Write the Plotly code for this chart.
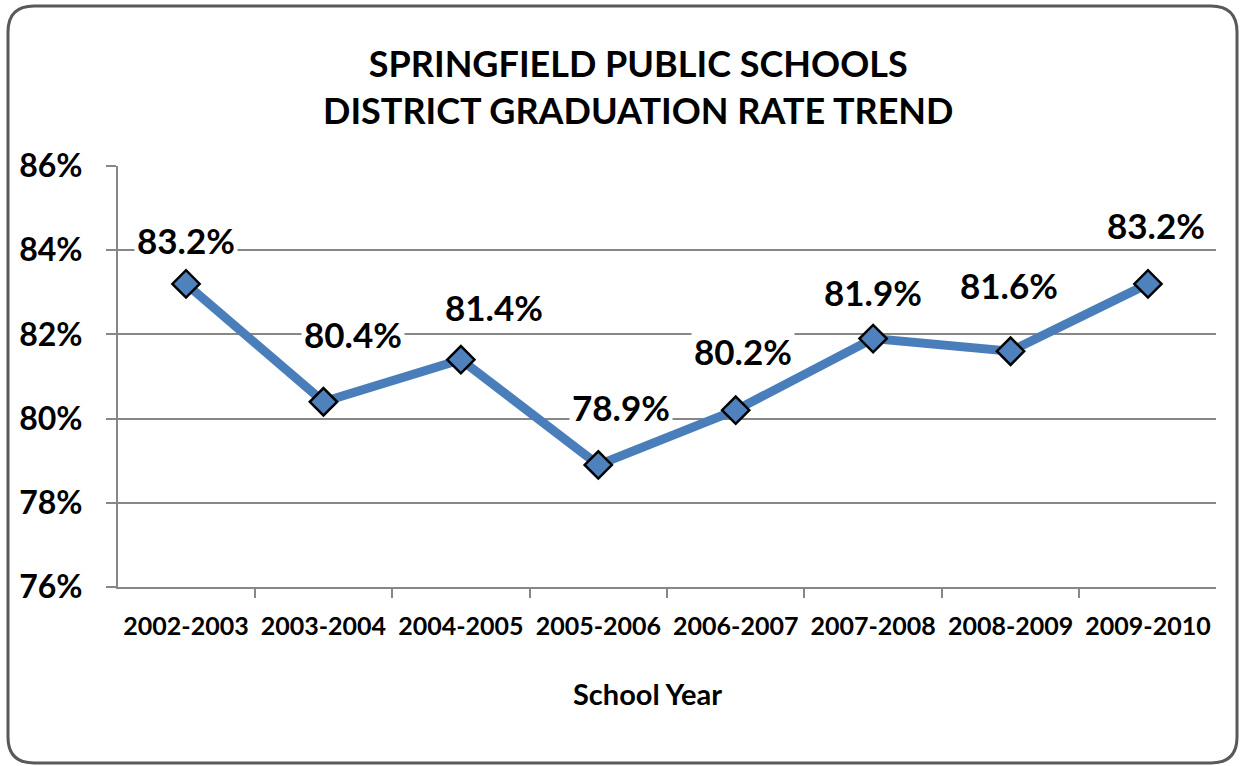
import plotly.graph_objects as go

school_years = ["2002-2003", "2003-2004", "2004-2005", "2005-2006",
                "2006-2007", "2007-2008", "2008-2009", "2009-2010"]
grad_rate = [83.2, 80.4, 81.4, 78.9, 80.2, 81.9, 81.6, 83.2]
label_texts = ["83.2%", "80.4%", "81.4%", "78.9%", "80.2%", "81.9%", "81.6%", "83.2%"]
y_ticks = [76, 78, 80, 82, 84, 86]
y_tick_labels = ["76%", "78%", "80%", "82%", "84%", "86%"]

# label offsets (pixels) relative to the marker
label_dx = [0, 30, 33, 23, 7, 0, -2, 8]
label_dy = [44, 68, 53, 58, 59, 47, 66, 59]

W, H = 1241, 766
L, R, T, B = 118, 1216, 166, 587
FONT = "Lato"


def px2paper(px, py):
    return (px - L) / (R - L), (B - py) / (B - T)


fig = go.Figure()
fig.add_trace(go.Scatter(
    x=school_years, y=grad_rate, mode="lines+markers",
    line=dict(color="#4a7ebb", width=9),
    marker=dict(symbol="diamond", size=21, color="#4f81bd",
                line=dict(color="black", width=2.5)),
    hoverinfo="x+y", showlegend=False,
))

annotations = []
for x, y, t, dx, dy in zip(school_years, grad_rate, label_texts, label_dx, label_dy):
    annotations.append(dict(
        x=x, y=y, xref="x", yref="y", text=t, showarrow=False,
        xshift=dx, yshift=dy, bgcolor="white", borderpad=2,
        font=dict(family=FONT, size=35, color="black", weight="bold"),
    ))

tx, ty = px2paper(638, 86)
annotations.append(dict(
    x=tx, y=ty, xref="paper", yref="paper", showarrow=False,
    text="SPRINGFIELD PUBLIC SCHOOLS<br>DISTRICT GRADUATION RATE TREND",
    font=dict(family=FONT, size=36, color="black", weight="bold"),
    xanchor="center", yanchor="middle",
))
ax, ay = px2paper(647, 693)
annotations.append(dict(
    x=ax, y=ay, xref="paper", yref="paper", showarrow=False,
    text="School Year",
    font=dict(family=FONT, size=29, color="black", weight="bold"),
    xanchor="center", yanchor="middle",
))

# rounded outer border
x0p, y0p, x1p, y1p, r = 8, 6, 1237, 763, 26
def P(px, py):
    a, b = px2paper(px, py)
    return f"{a:.5f},{b:.5f}"
path = (f"M {P(x0p + r, y0p)} L {P(x1p - r, y0p)} Q {P(x1p, y0p)} {P(x1p, y0p + r)} "
        f"L {P(x1p, y1p - r)} Q {P(x1p, y1p)} {P(x1p - r, y1p)} "
        f"L {P(x0p + r, y1p)} Q {P(x0p, y1p)} {P(x0p, y1p - r)} "
        f"L {P(x0p, y0p + r)} Q {P(x0p, y0p)} {P(x0p + r, y0p)} Z")

fig.update_layout(
    width=W, height=H,
    margin=dict(l=L, r=W - R, t=T, b=H - B),
    paper_bgcolor="white", plot_bgcolor="white",
    annotations=annotations,
    shapes=[dict(type="path", path=path, xref="paper", yref="paper",
                 line=dict(color="#595959", width=3), layer="above")],
    font=dict(family=FONT, color="black"),
)
fig.update_xaxes(
    type="category", tickson="boundaries", ticks="outside", ticklen=9,
    tickcolor="#878787", tickwidth=2, tickangle=0, automargin=False,
    showline=True, linecolor="#878787", linewidth=2, showgrid=False,
    tickfont=dict(family=FONT, size=25, color="black", weight="bold"),
    ticklabelstandoff=16,
)
fig.update_yaxes(
    range=[76, 86], tickvals=y_ticks, ticktext=y_tick_labels,
    ticks="outside", ticklen=10, tickcolor="#878787", tickwidth=2,
    showline=True, linecolor="#878787", linewidth=2, automargin=False,
    showgrid=True, gridcolor="#878787", gridwidth=1.5,
    tickfont=dict(family=FONT, size=32, color="black", weight="bold"),
    ticklabelstandoff=17, zeroline=False,
)
fig.write_html(
    "out.html",
    config={"displayModeBar": False},
    post_script="document.body.style.margin='0';document.body.style.overflow='hidden';",
)
